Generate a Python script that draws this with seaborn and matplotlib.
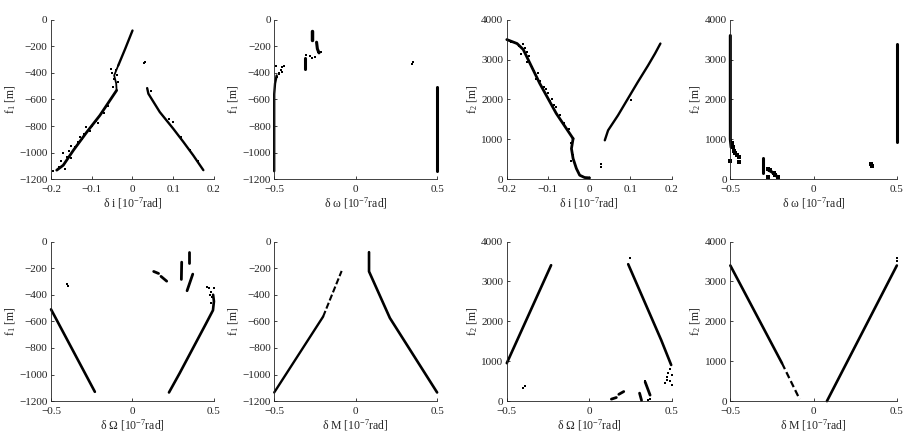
import matplotlib
matplotlib.use("Agg")
import matplotlib.pyplot as plt
import seaborn as sns
import numpy as np

# ---------------- data ----------------
# Panel 1: delta i vs f1
p1_a_x = [0.0, -0.018, -0.035]
p1_a_y = [-82, -220, -345]
p1_b_x = [-0.035, -0.045, -0.040, -0.039]
p1_b_y = [-345, -420, -480, -532]
p1_c_x = [-0.039, -0.080, -0.112, -0.145, -0.170, -0.186]
p1_c_y = [-532, -720, -845, -982, -1095, -1132]
p1_d_x = [0.036, 0.039, 0.067, 0.100, 0.125, 0.149, 0.174]
p1_d_y = [-515, -557, -695, -820, -920, -1020, -1132]
p1_pts_x = [0.028, 0.030, 0.100, -0.053, -0.039, -0.047, -0.045, -0.050, -0.040, -0.035,
            -0.090, -0.100, -0.115, -0.120, -0.130, -0.135, -0.150, -0.155, -0.160, -0.175,
            -0.180, -0.195, -0.165, -0.140, -0.125, -0.105, -0.085, -0.070, -0.060, 0.045,
            0.090, 0.120, 0.140, 0.160, -0.150, -0.170]
p1_pts_y = [-327, -315, -770, -370, -420, -507, -450, -400, -380, -470,
            -760, -800, -810, -860, -880, -920, -950, -990, -1030, -1060,
            -1110, -1135, -1120, -960, -900, -840, -780, -700, -650, -540,
            -745, -880, -980, -1060, -1040, -1000]

# Panel 2: delta omega vs f1
p2_a_x = [-0.5, -0.5, -0.495, -0.485]
p2_a_y = [-1140, -560, -480, -420]
p2_b_x = [-0.31, -0.31]
p2_b_y = [-290, -370]
p2_c_x = [-0.27, -0.27]
p2_c_y = [-85, -155]
p2_d_x = [-0.24, -0.235, -0.225]
p2_d_y = [-170, -220, -250]
p2_e_x = [0.5, 0.5]
p2_e_y = [-510, -1140]
p2_pts_x = [-0.47, -0.46, -0.45, -0.44, -0.48, -0.49, -0.47, -0.455, -0.28, -0.265,
            -0.25, -0.23, -0.215, -0.305, 0.343, 0.35]
p2_pts_y = [-400, -380, -360, -350, -430, -350, -410, -395, -275, -285,
            -280, -245, -240, -265, -330, -315]

# Panel 3: delta i vs f2
p3_a_x = [-0.200, -0.175, -0.160, -0.120, -0.080, -0.039]
p3_a_y = [3500, 3400, 3250, 2400, 1650, 1017]
p3_b_x = [-0.039, -0.043, -0.039, -0.031, -0.023, -0.011, 0.001]
p3_b_y = [1017, 767, 517, 267, 100, 42, 33]
p3_c_x = [0.038, 0.046, 0.070, 0.094, 0.118, 0.143, 0.160, 0.173]
p3_c_y = [975, 1225, 1600, 2017, 2433, 2850, 3150, 3400]
p3_pts_x = [0.029, 0.028, 0.102, -0.190, -0.170, -0.160, -0.155, -0.150, -0.145, -0.150,
            -0.140, -0.135, -0.130, -0.120, -0.110, -0.105, -0.100, -0.090, -0.085, -0.080,
            -0.070, -0.060, -0.050, -0.045, -0.040, -0.045, -0.035, -0.165, -0.125, -0.095]
p3_pts_y = [392, 308, 1975, 3450, 3350, 3380, 3300, 3200, 3100, 2950,
            2800, 2700, 2500, 2450, 2300, 2250, 2150, 2000, 1850, 1800,
            1600, 1400, 1250, 900, 600, 450, 380, 3150, 2650, 1950]

# Panel 4: delta omega vs f2
p4_a_x = [-0.5, -0.5, -0.495]
p4_a_y = [3600, 1000, 800]
p4_b_x = [-0.304, -0.304]
p4_b_y = [150, 520]
p4_c_x = [-0.275, -0.25, -0.22]
p4_c_y = [240, 180, 70]
p4_d_x = [0.5, 0.5]
p4_d_y = [930, 3400]
p4_pts_x = [-0.49, -0.485, -0.48, -0.47, -0.46, -0.45, -0.45, -0.5, -0.275, -0.26,
            -0.24, -0.23, -0.215, -0.275, 0.346, 0.35]
p4_pts_y = [900, 800, 700, 650, 600, 550, 420, 450, 60, 220,
            150, 100, 60, 250, 384, 330]

# Panel 5: delta Omega vs f1
p5_a_x = [-0.5, -0.231]
p5_a_y = [-510, -1130]
p5_b_x = [0.224, 0.29, 0.45, 0.494, 0.5, 0.495]
p5_b_y = [-1135, -989, -620, -517, -450, -400]
p5_c_x = [0.13, 0.16]
p5_c_y = [-225, -240]
p5_d_x = [0.175, 0.21]
p5_d_y = [-262, -298]
p5_e_x = [0.302, 0.300]
p5_e_y = [-155, -285]
p5_f_x = [0.348, 0.348]
p5_f_y = [-75, -158]
p5_g_x = [0.335, 0.37]
p5_g_y = [-370, -245]
p5_pts_x = [-0.404, -0.395, 0.47, 0.48, 0.46, 0.49, 0.485, 0.5, 0.475]
p5_pts_y = [-321, -335, -350, -380, -340, -420, -460, -350, -400]

# Panel 6: delta M vs f1
p6_a_x = [-0.5, -0.2]
p6_a_y = [-1135, -565]
p6_b_x = [-0.2, -0.086]
p6_b_y = [-565, -221]
p6_c_x = [0.082, 0.082, 0.21, 0.5]
p6_c_y = [-80, -225, -575, -1135]

# Panel 7: delta Omega vs f2
p7_a_x = [-0.5, -0.231]
p7_a_y = [952, 3407]
p7_b_x = [0.237, 0.437, 0.498]
p7_b_y = [3432, 1535, 906]
p7_c_x = [0.135, 0.165]
p7_c_y = [50, 90]
p7_d_x = [0.18, 0.21]
p7_d_y = [170, 240]
p7_e_x = [0.306, 0.318]
p7_e_y = [200, 20]
p7_f_x = [0.34, 0.37]
p7_f_y = [480, 150]
p7_pts_x = [-0.399, -0.39, 0.245, 0.49, 0.48, 0.5, 0.47, 0.46, 0.49, 0.5, 0.475, 0.34, 0.36, 0.37]
p7_pts_y = [326, 380, 3580, 800, 700, 650, 600, 450, 500, 400, 520, 500, 40, 60]

# Panel 8: delta M vs f2
p8_a_x = [-0.5, -0.19]
p8_a_y = [3400, 952]
p8_b_x = [-0.19, -0.084]
p8_b_y = [952, 50]
p8_c_x = [0.08, 0.5]
p8_c_y = [0, 3400]
p8_pts_x = [0.5, 0.5]
p8_pts_y = [3500, 3600]

xlabels = ["δ i [10$^{-7}$rad]", "δ ω [10$^{-7}$rad]", "δ i [10$^{-7}$rad]", "δ ω [10$^{-7}$rad]",
           "δ Ω [10$^{-7}$rad]", "δ M [10$^{-7}$rad]", "δ Ω [10$^{-7}$rad]", "δ M [10$^{-7}$rad]"]
ylabels = ["f$_1$ [m]", "f$_1$ [m]", "f$_2$ [m]", "f$_2$ [m]",
           "f$_1$ [m]", "f$_1$ [m]", "f$_2$ [m]", "f$_2$ [m]"]
xticks_i = [-0.2, -0.1, 0, 0.1, 0.2]
xticks_h = [-0.5, 0, 0.5]
yticks_f1 = [0, -200, -400, -600, -800, -1000, -1200]
yticks_f2 = [0, 1000, 2000, 3000, 4000]

# ---------------- styling ----------------
sns.set_style("ticks")
plt.rcParams["font.family"] = ["Liberation Serif", "DejaVu Serif"]
plt.rcParams["mathtext.fontset"] = "custom"
plt.rcParams["mathtext.rm"] = "Liberation Serif"
plt.rcParams["mathtext.it"] = "Liberation Serif:italic"
plt.rcParams["font.size"] = 8

fig = plt.figure(figsize=(9.05, 4.36), dpi=100)
lefts = [0.0564, 0.303, 0.560, 0.807]
widths = [0.180, 0.180, 0.182, 0.184]
bottoms = [0.589, 0.080]
height = 0.366

axes = []
for r in range(2):
    for c in range(4):
        axes.append(fig.add_axes([lefts[c], bottoms[r], widths[c], height]))

def seg(ax, xs, ys, lw=1.7, ls="-"):
    sns.lineplot(x=xs, y=ys, sort=False, estimator=None, ax=ax, color="black",
                 lw=lw, linestyle=ls, clip_on=False)

def pts(ax, xs, ys, s=3):
    sns.scatterplot(x=xs, y=ys, ax=ax, color="black", s=s, marker="s", linewidth=0,
                    clip_on=False)

a = axes
seg(a[0], p1_a_x, p1_a_y); seg(a[0], p1_b_x, p1_b_y, lw=1.3); seg(a[0], p1_c_x, p1_c_y, lw=2.0)
seg(a[0], p1_d_x, p1_d_y); pts(a[0], p1_pts_x, p1_pts_y, s=2.5)

seg(a[1], p2_a_x, p2_a_y); seg(a[1], p2_b_x, p2_b_y, lw=2.2); seg(a[1], p2_c_x, p2_c_y, lw=2.5)
seg(a[1], p2_d_x, p2_d_y, lw=2.2); seg(a[1], p2_e_x, p2_e_y, lw=2.2); pts(a[1], p2_pts_x, p2_pts_y, s=4)

seg(a[2], p3_a_x, p3_a_y, lw=2.0); seg(a[2], p3_b_x, p3_b_y, lw=2.0); seg(a[2], p3_c_x, p3_c_y)
pts(a[2], p3_pts_x, p3_pts_y, s=2.5)

seg(a[3], p4_a_x, p4_a_y, lw=2.2); seg(a[3], p4_b_x, p4_b_y, lw=2.2); seg(a[3], p4_c_x, p4_c_y, lw=2.2)
seg(a[3], p4_d_x, p4_d_y, lw=2.2); pts(a[3], p4_pts_x, p4_pts_y, s=5)

seg(a[4], p5_a_x, p5_a_y, lw=1.9); seg(a[4], p5_b_x, p5_b_y, lw=1.9)
for xs, ys in [(p5_c_x, p5_c_y), (p5_d_x, p5_d_y), (p5_e_x, p5_e_y), (p5_f_x, p5_f_y), (p5_g_x, p5_g_y)]:
    seg(a[4], xs, ys, lw=2.0)
pts(a[4], p5_pts_x, p5_pts_y, s=4)

seg(a[5], p6_a_x, p6_a_y, lw=1.7); seg(a[5], p6_b_x, p6_b_y, lw=1.5, ls=(0, (3, 1.2)))
seg(a[5], p6_c_x, p6_c_y, lw=1.9)

seg(a[6], p7_a_x, p7_a_y, lw=1.9); seg(a[6], p7_b_x, p7_b_y, lw=1.9)
for xs, ys in [(p7_c_x, p7_c_y), (p7_d_x, p7_d_y), (p7_e_x, p7_e_y), (p7_f_x, p7_f_y)]:
    seg(a[6], xs, ys, lw=2.0)
pts(a[6], p7_pts_x, p7_pts_y, s=4)

seg(a[7], p8_a_x, p8_a_y, lw=1.9); seg(a[7], p8_b_x, p8_b_y, lw=1.6, ls=(0, (3, 1.5)))
seg(a[7], p8_c_x, p8_c_y, lw=1.9); pts(a[7], p8_pts_x, p8_pts_y, s=4)

for i, ax in enumerate(axes):
    col = i % 4
    if i in (0, 2):
        ax.set_xlim(-0.2, 0.2); ax.set_xticks(xticks_i)
        ax.set_xticklabels(["−0.2", "−0.1", "0", "0.1", "0.2"])
    else:
        ax.set_xlim(-0.5, 0.5); ax.set_xticks(xticks_h)
        ax.set_xticklabels(["−0.5", "0", "0.5"])
    if col in (0, 1):
        ax.set_ylim(-1200, 0); ax.set_yticks(yticks_f1)
        ax.set_yticklabels(["0", "−200", "−400", "−600", "−800", "−1000", "−1200"])
    else:
        ax.set_ylim(0, 4000); ax.set_yticks(yticks_f2)
        ax.set_yticklabels([str(v) for v in yticks_f2])
    ax.set_xlabel(xlabels[i], fontsize=8.5, labelpad=1)
    ax.set_ylabel(ylabels[i], fontsize=8.5, labelpad=1)
    sns.despine(ax=ax)
    for s in ("left", "bottom"):
        ax.spines[s].set_linewidth(0.6)
        ax.spines[s].set_color("#222222")
    ax.tick_params(direction="in", length=2.5, width=0.6, labelsize=8, colors="#222222")
    ax.tick_params(axis="x", pad=4)
    ax.tick_params(axis="y", pad=2.5)
    ax.set_facecolor("white")

fig.savefig("out.png", dpi=100, facecolor="white")
